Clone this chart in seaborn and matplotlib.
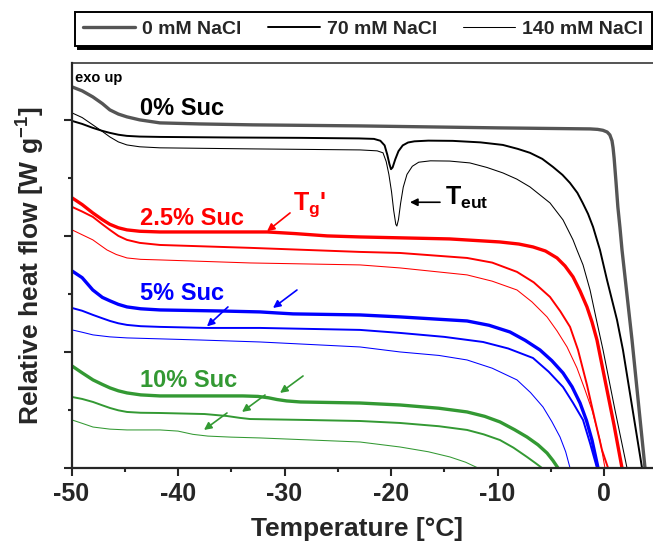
import matplotlib
matplotlib.use('Agg')
import matplotlib.pyplot as plt
import seaborn as sns
import pandas as pd
from matplotlib.lines import Line2D
from matplotlib.ticker import MultipleLocator

# DSC traces as (temperature [°C], relative heat flow [stacked, arb. units])
# 0 % sucrose
s0_n0 = [(-49.95, 3.284), (-49.0, 3.25), (-48.0, 3.198), (-47.1, 3.14), (-46.4, 3.086), (-45.6, 3.05),
         (-44.8, 3.026), (-43.6, 3.00), (-41.7, 2.974), (-38.0, 2.965), (-33.0, 2.957), (-23.0, 2.948),
         (-10.0, 2.931), (-1.3, 2.922), (-0.6, 2.918), (-0.1, 2.91), (0.3, 2.895), (0.55, 2.87), (0.75, 2.82),
         (0.85, 2.76), (0.95, 2.67), (1.13, 2.46), (1.3, 2.25), (1.5, 2.07), (1.69, 1.879), (2.63, 1.103),
         (3.85, 0.0), (4.04, -0.147)]
s0_n70 = [(-49.95, 2.991), (-49.0, 2.965), (-48.0, 2.931), (-47.1, 2.905), (-46.4, 2.888), (-45.6, 2.872),
          (-44.8, 2.862), (-43.6, 2.856), (-41.7, 2.853), (-35.0, 2.848), (-28.5, 2.845), (-23.0, 2.840),
          (-21.6, 2.836), (-21.0, 2.820), (-20.6, 2.78), (-20.35, 2.70), (-20.15, 2.62), (-20.0, 2.575),
          (-19.85, 2.59), (-19.6, 2.66), (-19.3, 2.73), (-18.9, 2.78), (-18.4, 2.805), (-17.8, 2.815),
          (-16.5, 2.821), (-14.2, 2.819), (-11.6, 2.806), (-9.5, 2.784), (-8.1, 2.750), (-6.95, 2.716),
          (-5.8, 2.664), (-4.8, 2.595), (-3.9, 2.526), (-3.2, 2.457), (-2.5, 2.371), (-2.0, 2.284),
          (-1.5, 2.190), (-1.03, 2.078), (-0.38, 1.879), (0.28, 1.621), (1.22, 1.276), (1.78, 1.017),
          (3.57, 0.0), (3.85, -0.147)]
s0_n140 = [(-49.95, 3.060), (-49.0, 3.02), (-48.0, 2.957), (-47.1, 2.90), (-46.4, 2.853), (-45.6, 2.81),
           (-44.8, 2.784), (-43.6, 2.768), (-41.7, 2.759), (-33.2, 2.750), (-22.9, 2.741), (-21.3, 2.733),
           (-20.75, 2.716), (-20.45, 2.64), (-20.2, 2.53), (-19.95, 2.38), (-19.75, 2.22), (-19.55, 2.10),
           (-19.45, 2.085), (-19.3, 2.14), (-19.1, 2.28), (-18.85, 2.42), (-18.5, 2.53), (-18.0, 2.60),
           (-17.4, 2.635), (-16.3, 2.647), (-14.5, 2.645), (-12.6, 2.629), (-11.0, 2.59), (-9.5, 2.543),
           (-8.2, 2.49), (-6.95, 2.422), (-5.07, 2.284), (-3.85, 2.138), (-2.91, 1.966), (-2.54, 1.879),
           (-1.97, 1.75), (-1.31, 1.534), (-0.75, 1.293), (-0.09, 1.017), (1.03, 0.5), (2.16, 0.0),
           (2.44, -0.147)]

# 2.5 % sucrose
s25_n0 = [(-49.95, 2.328), (-49.0, 2.27), (-48.0, 2.198), (-47.1, 2.14), (-46.4, 2.10), (-45.6, 2.07),
          (-44.8, 2.052), (-43.6, 2.04), (-41.7, 2.034), (-31.6, 2.034), (-29.0, 2.02), (-26.0, 2.0),
          (-22.9, 1.991), (-14.5, 1.974), (-9.8, 1.948), (-8.0, 1.93), (-6.67, 1.905), (-5.5, 1.87),
          (-4.41, 1.810), (-3.66, 1.741), (-2.91, 1.647), (-2.25, 1.526), (-1.60, 1.388), (-1.13, 1.259),
          (-0.66, 1.103), (0.09, 0.759), (0.94, 0.371), (1.69, 0.0), (1.97, -0.147)]
s25_n70 = [(-49.95, 2.250), (-49.0, 2.21), (-48.0, 2.164), (-47.1, 2.10), (-46.4, 2.052), (-45.6, 2.00),
           (-44.8, 1.966), (-43.6, 1.94), (-41.7, 1.922), (-33.2, 1.897), (-22.9, 1.862), (-19.15, 1.853),
           (-12.86, 1.810), (-10.5, 1.77), (-8.17, 1.690), (-6.6, 1.60), (-5.07, 1.474), (-4.1, 1.35),
           (-3.19, 1.216), (-2.44, 1.017), (-1.60, 0.716), (-0.85, 0.414), (-0.19, 0.155), (0.38, 0.0),
           (0.56, -0.147)]
s25_n140 = [(-49.95, 2.052), (-49.0, 2.01), (-48.0, 1.966), (-47.3, 1.92), (-46.67, 1.879), (-45.8, 1.84),
            (-44.79, 1.810), (-43.5, 1.798), (-41.69, 1.793), (-33.24, 1.767), (-22.91, 1.750), (-19.15, 1.724),
            (-12.86, 1.664), (-10.5, 1.61), (-8.17, 1.534), (-6.76, 1.431), (-5.35, 1.302), (-4.41, 1.181),
            (-3.47, 1.043), (-2.54, 0.862), (-1.78, 0.672), (-1.13, 0.500), (-0.38, 0.241), (0.09, 0.0),
            (0.28, -0.103)]

# 5 % sucrose
s5_n0 = [(-49.95, 1.698), (-49.0, 1.64), (-48.0, 1.534), (-47.1, 1.47), (-46.38, 1.440), (-45.6, 1.41),
         (-44.79, 1.388), (-43.5, 1.372), (-41.69, 1.362), (-36.0, 1.353), (-32.30, 1.345), (-30.70, 1.336),
         (-29.20, 1.328), (-22.91, 1.319), (-19.15, 1.302), (-12.86, 1.267), (-10.8, 1.23), (-8.83, 1.172),
         (-7.4, 1.10), (-6.01, 1.017), (-4.9, 0.925), (-3.85, 0.819), (-3.0, 0.70), (-2.25, 0.560),
         (-1.65, 0.41), (-1.13, 0.241), (-0.56, 0.0), (-0.38, -0.103)]
s5_n70 = [(-49.95, 1.379), (-49.0, 1.355), (-47.98, 1.319), (-47.1, 1.29), (-46.38, 1.267), (-45.6, 1.247),
          (-44.79, 1.233), (-43.5, 1.222), (-41.69, 1.216), (-37.28, 1.207), (-32.30, 1.207), (-22.91, 1.190),
          (-19.15, 1.164), (-15.0, 1.13), (-11.36, 1.086), (-9.0, 1.03), (-6.67, 0.948), (-5.2, 0.83),
          (-3.85, 0.698), (-2.9, 0.56), (-1.97, 0.414), (-1.3, 0.21), (-0.66, 0.0), (-0.47, -0.103)]
s5_n140 = [(-49.95, 1.190), (-49.0, 1.17), (-47.98, 1.147), (-46.4, 1.13), (-44.79, 1.121), (-37.93, 1.103),
           (-32.30, 1.086), (-22.91, 1.043), (-19.15, 1.000), (-15.5, 0.97), (-12.86, 0.931), (-10.5, 0.86),
           (-8.17, 0.759), (-6.9, 0.65), (-5.73, 0.526), (-4.9, 0.40), (-4.13, 0.267), (-3.6, 0.14),
           (-3.19, 0.0), (-3.0, -0.103)]

# 10 % sucrose
s10_n0 = [(-49.95, 0.879), (-49.0, 0.82), (-47.98, 0.759), (-47.1, 0.72), (-46.38, 0.690), (-45.6, 0.665),
          (-44.79, 0.647), (-43.5, 0.630), (-41.69, 0.621), (-33.9, 0.621), (-32.5, 0.617), (-31.5, 0.605),
          (-30.7, 0.59), (-29.8, 0.578), (-28.5, 0.569), (-22.91, 0.560), (-19.15, 0.543), (-15.5, 0.515),
          (-12.86, 0.483), (-11.2, 0.445), (-9.77, 0.397), (-8.4, 0.33), (-7.23, 0.267), (-6.2, 0.20),
          (-5.35, 0.129), (-4.8, 0.065), (-4.32, 0.0), (-4.13, -0.060)]
s10_n70 = [(-49.95, 0.612), (-49.0, 0.595), (-47.98, 0.569), (-47.1, 0.54), (-46.38, 0.517), (-45.6, 0.497),
           (-44.79, 0.483), (-43.5, 0.476), (-41.69, 0.474), (-37.5, 0.465), (-35.40, 0.448), (-34.2, 0.432),
           (-33.24, 0.422), (-28.0, 0.414), (-22.91, 0.405), (-19.15, 0.388), (-15.5, 0.36), (-12.86, 0.328),
           (-11.3, 0.29), (-9.77, 0.241), (-8.5, 0.175), (-7.23, 0.095), (-6.4, 0.04), (-5.82, 0.0),
           (-5.54, -0.060)]
s10_n140 = [(-49.95, 0.414), (-49.0, 0.385), (-47.98, 0.353), (-46.4, 0.335), (-44.79, 0.328), (-41.69, 0.328),
            (-40.0, 0.318), (-38.6, 0.290), (-37.2, 0.275), (-35.0, 0.266), (-32.30, 0.259), (-22.91, 0.224),
            (-19.15, 0.181), (-16.5, 0.14), (-14.46, 0.095), (-13.0, 0.05), (-11.83, 0.0), (-11.55, -0.060)]

nacl_labels = ['0 mM NaCl', '70 mM NaCl', '140 mM NaCl']
suc_labels = ['0% Suc', '2.5% Suc', '5% Suc', '10% Suc']

sns.set_style('ticks')
plt.rcParams['font.family'] = ['Liberation Sans', 'DejaVu Sans']
plt.rcParams['font.weight'] = 'bold'
plt.rcParams['axes.unicode_minus'] = False
plt.rcParams['mathtext.fontset'] = 'custom'
plt.rcParams['mathtext.rm'] = 'Liberation Sans:bold'
plt.rcParams['mathtext.it'] = 'Liberation Sans:bold'
plt.rcParams['mathtext.bf'] = 'Liberation Sans:bold'

GRAY = '#555555'
RED = '#ff0000'
BLUE = '#0000ff'
GREEN = '#339933'
LW = [2.4, 1.4, 0.75]

curves = [
    (s0_n0, GRAY, LW[0]), (s0_n70, 'black', LW[1]), (s0_n140, 'black', LW[2]),
    (s25_n0, RED, LW[0]), (s25_n70, RED, LW[1]), (s25_n140, RED, LW[2]),
    (s5_n0, BLUE, LW[0]), (s5_n70, BLUE, LW[1]), (s5_n140, BLUE, LW[2]),
    (s10_n0, GREEN, LW[0]), (s10_n70, GREEN, LW[1]), (s10_n140, GREEN, LW[2]),
]

W, H = 653, 548
fig = plt.figure(figsize=(W / 100, H / 100), dpi=100)
ax = fig.add_axes([71.5 / W, 80 / H, (W - 71.5) / W, (468 - 63) / H])

for pts, col, lw in curves:
    df = pd.DataFrame(pts, columns=['T', 'hf'])
    sns.lineplot(data=df, x='T', y='hf', ax=ax, color=col, lw=lw, sort=False, estimator=None)

ax.set_xlim(-50, 4.6)
ax.set_ylim(0, 3.49)
ax.xaxis.set_major_locator(MultipleLocator(10))
ax.xaxis.set_minor_locator(MultipleLocator(5))
ax.yaxis.set_major_locator(MultipleLocator(1))
ax.yaxis.set_minor_locator(MultipleLocator(0.5))
ax.set_yticklabels([])
ax.tick_params(axis='both', which='major', direction='out', length=6, width=1.5, labelsize=18, pad=4)
ax.tick_params(axis='both', which='minor', direction='out', length=3, width=1.5)
for lab in ax.get_xticklabels():
    lab.set_fontweight('bold')
ax.spines['right'].set_visible(False)
ax.spines['left'].set_linewidth(1.6)
ax.spines['bottom'].set_linewidth(1.6)
ax.spines['top'].set_linewidth(1.1)

ax.set_xlabel('Temperature [°C]', fontsize=19, fontweight='bold')
ax.set_ylabel('Relative heat flow [W g$^{-1}$]', fontsize=19, fontweight='bold')
ax.xaxis.set_label_coords(0.491, -0.12)
ax.yaxis.set_label_coords(-0.042, 0.5)

# curve group labels
ax.text(-49.67, 3.328, 'exo up', fontsize=10.5, fontweight='bold', color='black')
ax.text(-43.57, 3.043, suc_labels[0], fontsize=17, fontweight='bold', color='black')
ax.text(-43.57, 2.095, suc_labels[1], fontsize=17, fontweight='bold', color=RED)
ax.text(-43.57, 1.448, suc_labels[2], fontsize=17, fontweight='bold', color=BLUE)
ax.text(-43.57, 0.698, suc_labels[3], fontsize=17, fontweight='bold', color=GREEN)

arrow_kw = dict(arrowstyle='-|>', lw=1.2, mutation_scale=11, shrinkA=0, shrinkB=0)
ax.annotate('', xy=(-31.64, 2.04), xytext=(-29.48, 2.198), arrowprops=dict(color=RED, **arrow_kw))
ax.text(-29.2, 2.224, "T$_g$'", fontsize=18, fontweight='bold', color=RED)
ax.annotate('', xy=(-18.22, 2.29), xytext=(-15.40, 2.29), arrowprops=dict(color='black', **arrow_kw))
ax.text(-14.93, 2.27, 'T$_{eut}$', fontsize=18, fontweight='bold', color='black')
ax.annotate('', xy=(-31.08, 1.379), xytext=(-28.83, 1.534), arrowprops=dict(color=BLUE, **arrow_kw))
ax.annotate('', xy=(-37.28, 1.22), xytext=(-35.31, 1.388), arrowprops=dict(color=BLUE, **arrow_kw))
ax.annotate('', xy=(-30.42, 0.647), xytext=(-28.26, 0.793), arrowprops=dict(color=GREEN, **arrow_kw))
ax.annotate('', xy=(-33.99, 0.483), xytext=(-31.83, 0.629), arrowprops=dict(color=GREEN, **arrow_kw))
ax.annotate('', xy=(-37.56, 0.328), xytext=(-35.40, 0.474), arrowprops=dict(color=GREEN, **arrow_kw))

handles = [Line2D([], [], color=GRAY, lw=LW[0]), Line2D([], [], color='black', lw=LW[1]),
           Line2D([], [], color='black', lw=LW[2])]
leg = fig.legend(handles, nacl_labels, loc='upper left', bbox_to_anchor=(75 / W, 1 - 12 / H),
                 ncol=3, prop={'weight': 'bold', 'size': 14}, frameon=True, fancybox=False,
                 shadow={'color': 'black', 'alpha': 1.0}, borderaxespad=0, handlelength=2.68,
                 handletextpad=0.36, columnspacing=1.34, borderpad=0.42)
leg.get_frame().set_edgecolor('black')
leg.get_frame().set_linewidth(1.4)

fig.savefig('out.png', dpi=100)
